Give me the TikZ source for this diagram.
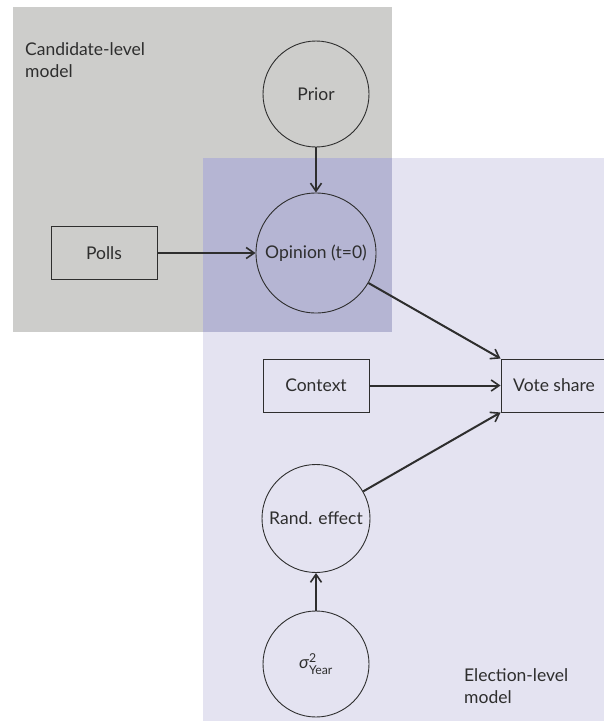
\documentclass[tikz,border=0pt]{standalone}
\usepackage{amsmath}
\usepackage{fontspec}
\setmainfont{Lato}
\usetikzlibrary{arrows.meta}
\definecolor{candbg}{HTML}{CDCDCB}
\definecolor{electbg}{HTML}{E4E3F1}
\definecolor{overlapbg}{HTML}{B5B5D3}
\definecolor{ink}{HTML}{2E2E2E}
\begin{document}
\begin{tikzpicture}[x=1pt,y=-1pt,
  font=\fontsize{17.5}{22}\selectfont, text=ink,
  circ/.style={circle,draw=ink,line width=0.9pt,inner sep=0pt},
  rbox/.style={rectangle,draw=ink,line width=0.9pt,minimum width=106pt,minimum height=53pt,inner sep=0pt},
  conn/.style={draw=ink,line width=2pt,-{Straight Barb[length=8pt,width=11pt,line width=1.6pt]}},
  grp/.style={align=left,anchor=north west,inner sep=0pt}]
\useasboundingbox (0,0) rectangle (604,721);
\fill[candbg] (13,7) rectangle (392,332);
\fill[electbg] (203,158) rectangle (604,721);
\fill[overlapbg] (203,158) rectangle (392,332);
\node[grp] (candlbl) at (25,42) {Candidate-level\\model};
\node[grp] (electlbl) at (464,668) {Election-level\\model};
\node[circ,minimum size=106pt] (prior) at (316,94) {Prior};
\node[circ,minimum size=120pt] (opinion) at (316,253) {Opinion (t=0)};
\node[rbox] (polls) at (104,253) {Polls};
\node[rbox] (context) at (316,385.5) {Context};
\node[rbox] (vote) at (554,385.5) {Vote share};
\node[circ,minimum size=108pt] (rand) at (316,518.5) {Rand. effect};
\node[circ,minimum size=106pt] (sigma) at (316,664) {\textit{σ}$^{\text{2}}_{\text{Year}}$};
\draw[conn] (prior) -- (opinion);
\draw[conn] (polls) -- (opinion);
\draw[conn] (opinion) -- (vote.north west);
\draw[conn] (context) -- (vote.west);
\draw[conn] (rand) -- (vote.south west);
\draw[conn] (sigma) -- (rand);
\end{tikzpicture}
\end{document}
